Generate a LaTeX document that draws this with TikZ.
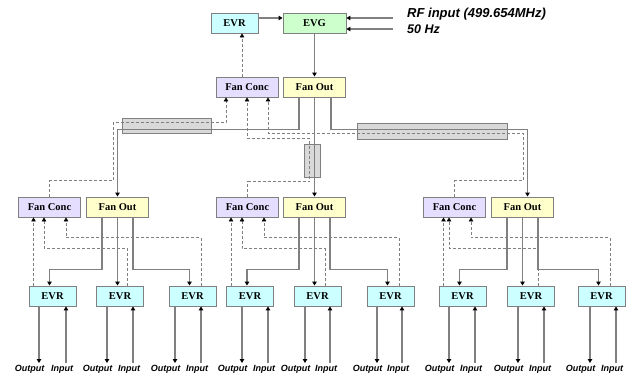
\documentclass[tikz,border=0pt]{standalone}
\usepackage{fontspec}
\setmainfont{Liberation Serif}
\setsansfont{Liberation Sans}
\usetikzlibrary{arrows.meta}
\definecolor{evrcyan}{RGB}{204,255,255}
\definecolor{evggreen}{RGB}{204,255,204}
\definecolor{conclilac}{RGB}{230,222,255}
\definecolor{outyellow}{RGB}{255,255,204}
\definecolor{cablegray}{RGB}{217,217,217}
\definecolor{wiregray}{RGB}{128,128,128}
\tikzset{
  box/.style={draw=wiregray, line width=0.9pt, minimum height=20pt, inner sep=0pt, font=\bfseries\fontsize{10.5}{12}\selectfont},
  evrbox/.style={box, fill=evrcyan, minimum width=47pt},
  evgbox/.style={box, fill=evggreen, minimum width=63pt},
  concbox/.style={box, fill=conclilac, minimum width=62pt},
  outbox/.style={box, fill=outyellow, minimum width=62pt},
  cable/.style={draw=wiregray, fill=cablegray, line width=0.9pt, inner sep=0pt},
  conn/.style={draw=wiregray, line width=1.3pt, -{Triangle[length=4pt,width=4.5pt,color=black]}},
  dconn/.style={conn, line width=0.8pt, dash pattern=on 3pt off 2pt},
  iolabel/.style={font=\sffamily\bfseries\itshape\fontsize{9}{11}\selectfont, inner sep=0pt}
}

\begin{document}
\begin{tikzpicture}[x=1pt, y=-1pt]
  \useasboundingbox (0,0) rectangle (626,374);
  % top level
  \node[evrbox] (evr0) at (234.5,23) {EVR};
  \node[evgbox] (evg) at (314.5,23) {EVG};
  \node[concbox] (fc0) at (247,87) {Fan Conc};
  \node[outbox] (fo0) at (314.5,87) {Fan Out};
  \node[iolabel, anchor=west, font=\sffamily\bfseries\itshape\fontsize{13}{15}\selectfont] (rftxt) at (407,14) {RF input (499.654MHz)};
  \node[iolabel, anchor=west, font=\sffamily\bfseries\itshape\fontsize{12.5}{15}\selectfont] (hztxt) at (407,29) {50 Hz};
  \coordinate (rf) at (393,18);
  \coordinate (hz) at (393,29);
  % cables
  \node[cable, minimum width=89pt, minimum height=15pt] (cableL) at (166.5,125.5) {};
  \node[cable, minimum width=150pt, minimum height=16pt] (cableR) at (432,131) {};
  \node[cable, minimum width=16pt, minimum height=33pt] (cableV) at (312,160.5) {};

  \draw[conn] (rf) -- (rf -| evg.east);
  \draw[conn] (hz) -- (hz -| evg.east);
  \draw[conn] ([yshift=5]evr0.east) -- ([yshift=5]evr0.east -| evg.west);
  \draw[conn] (evg.south) -- (fo0.north);
  \draw[dconn] ([xshift=-5]fc0.north) -- ([xshift=-5]fc0.north |- evr0.south);

  % EVRs with output / input
  \foreach \n/\x/\o/\i in {1/52.5/39/66, 2/120/107/133, 3/192.5/175/201, 4/250/242/268, 5/317.5/305/330,
                           6/390.5/377/402, 7/462.5/449/475, 8/531/518/544, 9/601.5/590/616} {
    \node[evrbox] (e\n) at (\x,296) {EVR};
    \coordinate (o\n) at (\o,363);
    \coordinate (i\n) at (\i,363);
    \node[iolabel] (out\n) at (\o-9.5,369) {Output};
    \node[iolabel] (in\n) at (\i-4,369) {Input};
    \draw[conn] (e\n.south -| o\n) -- (o\n);
    \draw[conn] (i\n) -- (i\n |- e\n.south);
  }

  % fan groups
  \foreach \g/\c/\f/\a/\b/\d in {1/49.5/117.5/1/2/3, 2/247.5/314.5/4/5/6, 3/454.5/522.5/7/8/9} {
    \node[concbox] (fc\g) at (\c,207) {Fan Conc};
    \node[outbox] (fo\g) at (\f,207) {Fan Out};
    \draw[conn] ([xshift=-15.5]fo\g.south) -- ++(0,52) -| ([xshift=-3]e\a.north);
    \draw[conn] (fo\g.south) -- (fo\g.south |- e\b.north);
    \draw[conn] ([xshift=15.5]fo\g.south) -- ++(0,52) -| ([xshift=-3]e\d.north);
    \draw[dconn] ([xshift=-19]e\a.north) -- ([xshift=-19]e\a.north |- fc\g.south);
    \draw[dconn] ([xshift=7.5]e\b.north) -- ++(0,-37) -| ([xshift=-5.5]fc\g.south);
    \draw[dconn] ([xshift=8.5]e\d.north) -- ++(0,-48) -| ([xshift=16.5]fc\g.south);
  }

  % top fan out / fan conc to groups
  \draw[conn] ([xshift=-15.5]fo0.south) -- ++(0,32) -| (fo1.north);
  \draw[conn] (fo0.south) -- (fo0.south |- fo2.north);
  \draw[conn] ([xshift=16.5]fo0.south) -- ++(0,32) -| ([xshift=5]fo3.north);
  \draw[dconn] (fc1.north) -- ++(0,-16) -| ++(63.5,-58) -| ([xshift=-21]fc0.south);
  \draw[dconn] (fc2.north) -- ++(0,-15) -| ++(62,-43) -| (fc0.south);
  \draw[dconn] (fc3.north) -- ++(0,-16) -| ++(68.5,-47) -| ([xshift=21]fc0.south);
\end{tikzpicture}
\end{document}
